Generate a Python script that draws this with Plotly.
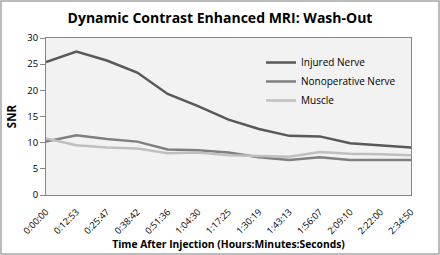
import plotly.graph_objects as go

times = ["0:00:00", "0:12:53", "0:25:47", "0:38:42", "0:51:36", "1:04:30", "1:17:25",
         "1:30:19", "1:43:13", "1:56:07", "2:09:10", "2:22:00", "2:34:50"]
injured = [25.4, 27.4, 25.7, 23.4, 19.3, 17.0, 14.4, 12.6, 11.3, 11.2, 9.9, 9.5, 9.1]
nonop = [10.2, 11.4, 10.7, 10.2, 8.7, 8.55, 8.1, 7.2, 6.7, 7.2, 6.7, 6.7, 6.7]
muscle = [10.8, 9.5, 9.1, 8.9, 8.0, 8.1, 7.6, 7.5, 7.3, 8.2, 7.9, 7.8, 7.6]

font = "Open Sans, Liberation Sans, sans-serif"
fig = go.Figure()
for name, vals, col in [("Injured Nerve", injured, "#595959"),
                        ("Nonoperative Nerve", nonop, "#7f7f7f"),
                        ("Muscle", muscle, "#bfbfbf")]:
    fig.add_trace(go.Scatter(x=times, y=vals, name=name, mode="lines",
                             line=dict(color=col, width=2.5)))

fig.update_layout(
    width=440, height=255,
    margin=dict(l=46, r=29, t=38, b=60),
    paper_bgcolor="white", plot_bgcolor="#f2f2f2",
    font=dict(family=font, color="#000000"),
    title=dict(text="<b>Dynamic Contrast Enhanced MRI: Wash-Out</b>",
               x=0.5, xanchor="center", y=1 - 18 / 255, yanchor="middle",
               font=dict(size=14, family=font)),
    showlegend=True,
    legend=dict(x=(261 - 46) / 365, y=(195 - 48) / 157, xanchor="left", yanchor="top",
                bgcolor="rgba(0,0,0,0)", font=dict(size=10, family=font),
                itemwidth=30, tracegroupgap=0),
    xaxis=dict(type="category", tickangle=-45, tickfont=dict(size=9.2, color="#000000"),
               showgrid=False, showline=True, linecolor="#868686", mirror=True,
               range=[0, 12], ticks="", ticklabelstandoff=7,
               title=dict(text="<b>Time After Injection (Hours:Minutes:Seconds)</b>",
                          font=dict(size=10.3), standoff=0)),
    yaxis=dict(range=[0, 30], tickvals=[0, 5, 10, 15, 20, 25, 30], tickfont=dict(size=9.5),
               showgrid=False, showline=True, linecolor="#868686", mirror=True,
               ticks="outside", ticklen=5, tickcolor="#868686",
               title=dict(text="<b>SNR</b>", font=dict(size=11.5), standoff=8)),
    shapes=[dict(type="rect", xref="paper", yref="paper",
                 x0=(1 - 46) / 365, x1=(439 - 46) / 365,
                 y0=-59 / 157, y1=194 / 157,
                 line=dict(color="#a6a6a6", width=1.5))],
)
fig.write_html("out.html", config={"displayModeBar": False},
               post_script="document.body.style.margin='0';document.body.style.padding='0';")
